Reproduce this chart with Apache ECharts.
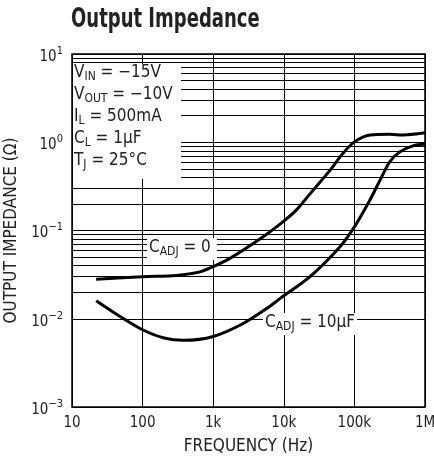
<!DOCTYPE html>
<html>
<head>
<meta charset="utf-8">
<script src="https://cdn.jsdelivr.net/npm/echarts@6/dist/echarts.min.js"></script>
<style>
  html, body { margin: 0; padding: 0; background: #fff; }
  #chart { width: 434px; height: 463px; }
</style>
</head>
<body>
<div id="chart"></div>
<script>
// frequency (Hz) and impedance (ohm)
var freqA = [22, 100, 300, 650, 1000, 1700, 5100, 9800, 15000, 23500, 45000, 69000, 100000, 166000, 316000, 490000, 1000000];
var zA = [0.028, 0.030, 0.031, 0.034, 0.039, 0.048, 0.085, 0.126, 0.17, 0.26, 0.48, 0.75, 1.01, 1.21, 1.23, 1.21, 1.28];
var freqB = [22, 48, 100, 195, 380, 1000, 2700, 6300, 8900, 23500, 63000, 100000, 166000, 230000, 316000, 443000, 676000, 1000000];
var zB = [0.016, 0.0106, 0.0075, 0.0061, 0.0057, 0.0063, 0.0089, 0.0138, 0.017, 0.030, 0.066, 0.110, 0.222, 0.37, 0.60, 0.78, 0.91, 0.955];

var xTickLabels = ["10", "100", "1k", "10k", "100k", "1M"];
var yExponents = ["−3", "−2", "−1", "0", "1"];
// minor log grid lines (2..9 in each decade)
var yMinor = [];
[0.001, 0.01, 0.1, 1].forEach(function (d) {
    [2, 3, 4, 5, 6, 7, 8, 9].forEach(function (m) { yMinor.push(+(d * m).toPrecision(3)); });
});

var FONT = "'Liberation Sans Narrow', 'DejaVu Sans Condensed', sans-serif";

function pairs(xs, ys) {
    return xs.map(function (x, i) { return [x, ys[i]]; });
}

var sub = {
    n: { fontFamily: FONT, fontSize: 17, fill: "#222", lineHeight: 22 },
    s: { fontFamily: FONT, fontSize: 12, fill: "#222", lineHeight: 22, padding: [8, 0, 0, 0] }
};

var chart = echarts.init(document.getElementById("chart"));
var option = {
    animation: false,
    backgroundColor: "#fff",
    grid: {
        left: 72, right: 9, top: 54, bottom: 56,
        outerBoundsMode: "none",
        show: true, borderColor: "#000", borderWidth: 1.5
    },
    xAxis: {
        type: "log",
        logBase: 10,
        min: 10,
        max: 1000000,
        name: "FREQUENCY (Hz)",
        nameLocation: "middle",
        nameGap: 31,
        nameTextStyle: { fontFamily: FONT, fontSize: 17, color: "#222" },
        axisLine: { show: false },
        axisTick: { show: false },
        splitLine: { show: true, lineStyle: { color: "#000", width: 1 } },
        axisLabel: {
            fontFamily: FONT, fontSize: 15, color: "#222", margin: 9,
            formatter: function (v) {
                var i = Math.round(Math.log10(v)) - 1;
                return xTickLabels[i] || "";
            }
        }
    },
    yAxis: {
        type: "log",
        logBase: 10,
        min: 0.001,
        max: 10,
        name: "OUTPUT IMPEDANCE (Ω)",
        nameLocation: "middle",
        nameGap: 45,
        nameTextStyle: { fontFamily: FONT, fontSize: 17, color: "#222" },
        axisLine: { show: false },
        axisTick: { show: false },
        splitLine: { show: true, lineStyle: { color: "#000", width: 1 } },
        axisLabel: {
            margin: 9,
            formatter: function (v) {
                var i = Math.round(Math.log10(v)) + 3;
                return "{b|10}{e|" + yExponents[i] + "}";
            },
            rich: {
                b: { fontFamily: FONT, fontSize: 15, color: "#222", padding: [6, 0, 0, 0] },
                e: { fontFamily: FONT, fontSize: 11, color: "#222", padding: [0, 0, 6, 0] }
            }
        }
    },
    series: [
        {
            name: "CADJ = 0",
            type: "line",
            data: pairs(freqA, zA),
            smooth: 0.3,
            showSymbol: false,
            lineStyle: { color: "#000", width: 3 },
            z: 5,
            markLine: {
                silent: true,
                symbol: "none",
                label: { show: false },
                lineStyle: { color: "#000", width: 1, type: "solid" },
                data: yMinor.map(function (v) { return { yAxis: v }; }),
                z: 1
            }
        },
        {
            name: "CADJ = 10uF",
            type: "line",
            data: pairs(freqB, zB),
            smooth: 0.3,
            showSymbol: false,
            lineStyle: { color: "#000", width: 3 },
            z: 5
        }
    ],
    graphic: [
        {
            type: "text", z: 51, x: 71, y: 7, scaleX: 0.77,
            style: { text: "Output Impedance", fontFamily: FONT, fontSize: 26, fontWeight: "bold", fill: "#222" }
        },
        { type: "rect", z: 50, shape: { x: 73, y: 64, width: 108, height: 115 }, style: { fill: "#fff" } },
        {
            type: "text", z: 51, left: 74, top: 63,
            style: {
                text: "{n|V}{s|IN}{n| = −15V}\n{n|V}{s|OUT}{n| = −10V}\n{n|I}{s|L}{n| = 500mA}\n{n|C}{s|L}{n| = 1μF}\n{n|T}{s|J}{n| = 25°C}",
                rich: sub
            }
        },
        { type: "rect", z: 50, shape: { x: 147, y: 238, width: 70, height: 22 }, style: { fill: "#fff" } },
        {
            type: "text", z: 51, left: 149, top: 238,
            style: { text: "{n|C}{s|ADJ}{n| = 0}", rich: sub }
        },
        { type: "rect", z: 50, shape: { x: 263, y: 313, width: 94, height: 22 }, style: { fill: "#fff" } },
        {
            type: "text", z: 51, left: 265, top: 313,
            style: { text: "{n|C}{s|ADJ}{n| = 10μF}", rich: sub }
        }
    ]
};
chart.setOption(option);
</script>
</body>
</html>
